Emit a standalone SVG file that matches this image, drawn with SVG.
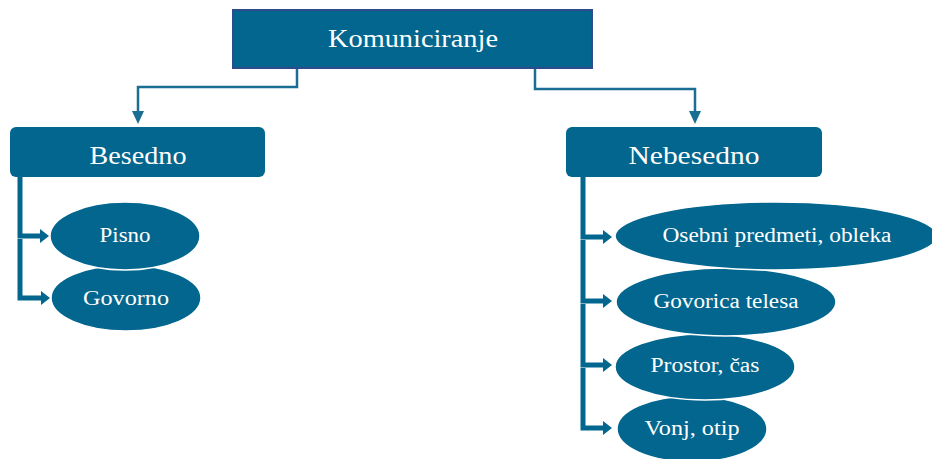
<svg xmlns="http://www.w3.org/2000/svg" width="932" height="459" viewBox="0 0 932 459">
<defs>
<style>
.box{fill:#03668e}
.top{fill:#03668e;stroke:#2e4b8c;stroke-width:2}
.ell{fill:#03668e;stroke:#ffffff;stroke-width:1.5}
.t{font-family:"Liberation Serif","Times New Roman",serif;fill:#ffffff;text-anchor:middle;dominant-baseline:central}
.big{font-size:25px}
.sm{font-size:20px}
.thin{fill:none;stroke:#1a6d93;stroke-width:2.5}
.thick{fill:none;stroke:#03668e;stroke-width:5}
</style>
<marker id="ar" markerWidth="9" markerHeight="14" refX="0" refY="7" orient="auto" markerUnits="userSpaceOnUse" viewBox="0 0 9 14">
<path d="M0,0 L9,7 L0,14 Z" fill="#03668e"/>
</marker>
</defs>
<g id="connectors">
<path class="thin" d="M297,68 V87 H138 V113"/>
<path d="M132,111 H144 L138,124 Z" fill="#1a6d93"/>
<path class="thin" d="M535,68 V89 H695 V113"/>
<path d="M689,111 H701 L695,124 Z" fill="#1a6d93"/>
<path class="thick" d="M20,177 V236 H40" marker-end="url(#ar)"/>
<path class="thick" d="M20,239 V298 H41" marker-end="url(#ar)"/>
<path class="thick" d="M583,177 V237 H603" marker-end="url(#ar)"/>
<path class="thick" d="M583,240 V301 H603" marker-end="url(#ar)"/>
<path class="thick" d="M583,304 V365 H603" marker-end="url(#ar)"/>
<path class="thick" d="M583,368 V428 H603" marker-end="url(#ar)"/>
</g>
<g id="komuniciranje">
<rect class="top" x="233" y="10" width="359" height="58"/>
<text class="t big" x="413" y="38" textLength="170" lengthAdjust="spacingAndGlyphs">Komuniciranje</text>
</g>
<g id="besedno">
<rect class="box" x="10" y="127" width="255" height="50" rx="6"/>
<text class="t big" x="138" y="155" textLength="97" lengthAdjust="spacingAndGlyphs">Besedno</text>
</g>
<g id="nebesedno">
<rect class="box" x="566" y="127" width="256" height="50" rx="6"/>
<text class="t big" x="694" y="155" textLength="131" lengthAdjust="spacingAndGlyphs">Nebesedno</text>
</g>
<g id="govorno">
<ellipse class="ell" cx="126" cy="298" rx="75" ry="33"/>
<text class="t sm" x="126" y="298" textLength="86" lengthAdjust="spacingAndGlyphs">Govorno</text>
</g>
<g id="pisno">
<ellipse class="ell" cx="125" cy="236" rx="75" ry="34"/>
<text class="t sm" x="125" y="235" textLength="51" lengthAdjust="spacingAndGlyphs">Pisno</text>
</g>
<g id="vonj">
<ellipse class="ell" cx="692" cy="429" rx="75" ry="33"/>
<text class="t sm" x="692" y="428" textLength="95" lengthAdjust="spacingAndGlyphs">Vonj, otip</text>
</g>
<g id="prostor">
<ellipse class="ell" cx="705" cy="367" rx="90" ry="33"/>
<text class="t sm" x="705" y="365" textLength="109" lengthAdjust="spacingAndGlyphs">Prostor, čas</text>
</g>
<g id="govorica">
<ellipse class="ell" cx="726" cy="302" rx="110" ry="34"/>
<text class="t sm" x="726" y="301" textLength="145" lengthAdjust="spacingAndGlyphs">Govorica telesa</text>
</g>
<g id="osebni">
<ellipse class="ell" cx="776" cy="236" rx="161" ry="34"/>
<text class="t sm" x="777" y="235" textLength="229" lengthAdjust="spacingAndGlyphs">Osebni predmeti, obleka</text>
</g>
</svg>
